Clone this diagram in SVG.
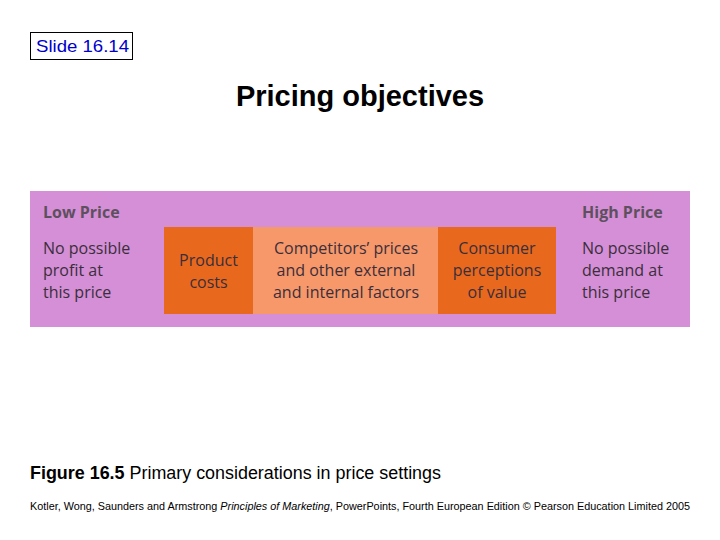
<svg xmlns="http://www.w3.org/2000/svg" width="720" height="540" viewBox="0 0 720 540">
<style>
.b{font-family:"Open Sans","DejaVu Sans",sans-serif;font-size:16px;fill:#3b2e3b}
.h{font-family:"Open Sans","DejaVu Sans",sans-serif;font-size:16px;font-weight:bold;fill:#5e505e}
.c{text-anchor:middle}
.a{font-family:"Liberation Sans",Arial,sans-serif}
</style>
<rect width="720" height="540" fill="#ffffff"/>
<g id="slide-label">
<rect x="30.5" y="32.5" width="102" height="27" fill="#ffffff" stroke="#000" stroke-width="1"/>
<text x="36" y="52" class="a" font-size="16.5" fill="#0000cc" textLength="93" lengthAdjust="spacingAndGlyphs">Slide 16.14</text>
</g>
<g id="title"><text x="360" y="106" class="a" font-size="29" font-weight="bold" text-anchor="middle" fill="#000">Pricing objectives</text></g>
<g id="band"><rect x="30" y="191" width="660" height="136" fill="#d48fd6"/></g>
<g id="low-price">
<text x="43" y="218" class="h">Low Price</text>
<text class="b"><tspan x="43" y="254">No possible</tspan><tspan x="43" y="276">profit at</tspan><tspan x="43" y="298">this price</tspan></text>
</g>
<g id="product-costs">
<rect x="164" y="227" width="89" height="87" fill="#e8691e"/>
<text class="b c"><tspan x="208.5" y="266">Product</tspan><tspan x="208.5" y="288">costs</tspan></text>
</g>
<g id="competitors">
<rect x="253" y="227" width="185" height="87" fill="#f7986a"/>
<text class="b c"><tspan x="346" y="254">Competitors’ prices</tspan><tspan x="346" y="276">and other external</tspan><tspan x="346" y="298">and internal factors</tspan></text>
</g>
<g id="consumer">
<rect x="438" y="227" width="118" height="87" fill="#e8691e"/>
<text class="b c"><tspan x="497" y="254">Consumer</tspan><tspan x="497" y="276">perceptions</tspan><tspan x="497" y="298">of value</tspan></text>
</g>
<g id="high-price">
<text x="582" y="218" class="h">High Price</text>
<text class="b"><tspan x="582" y="254">No possible</tspan><tspan x="582" y="276">demand at</tspan><tspan x="582" y="298">this price</tspan></text>
</g>
<g id="connectors"></g>
<g id="caption"><text x="30" y="479" class="a" font-size="17.5" fill="#000" textLength="411" lengthAdjust="spacingAndGlyphs"><tspan font-weight="bold">Figure 16.5</tspan> Primary considerations in price settings</text></g>
<g id="footer"><text x="30" y="510" class="a" font-size="10.6" fill="#000" textLength="660" lengthAdjust="spacingAndGlyphs">Kotler, Wong, Saunders and Armstrong <tspan font-style="italic">Principles of Marketing</tspan>, PowerPoints, Fourth European Edition © Pearson Education Limited 2005</text></g>
</svg>
